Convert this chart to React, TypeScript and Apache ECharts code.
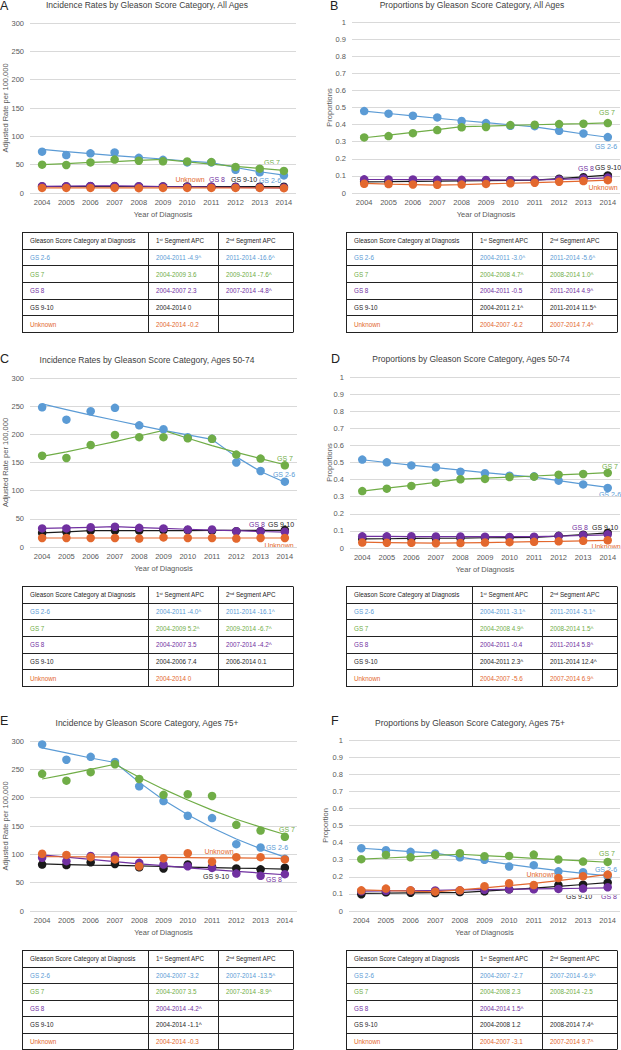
import React, { useEffect, useRef } from "react";
import * as echarts from "echarts";

const FONT = "'Liberation Sans', Arial, sans-serif";

const years = ["2004", "2005", "2006", "2007", "2008", "2009", "2010", "2011", "2012", "2013", "2014"];
const groupNames = ["GS 2-6", "GS 7", "GS 8", "GS 9-10", "Unknown"];
const groupColors = ["#5B9BD5", "#70AD47", "#7030A0", "#1A1A1A", "#E3682E"];
const rateTicks = { max: 300, interval: 50 };
const propTicks = { max: 1, interval: 0.1 };

// Panel A: incidence, all ages (observed and fitted)
const aObsGS26 = [73, 67, 70, 71.5, 62, 58.5, 54, 54, 41, 36.5, 31];
const aFitGS26 = [77, 73, 69.5, 66, 63, 60, 56.5, 53.5, 45, 37.5, 31.5];
const aObsGS7 = [50, 49.5, 54, 59, 57, 56, 55.5, 54.5, 46, 43, 39];
const aFitGS7 = [50, 52, 54, 55.5, 57.5, 59.5, 55, 51, 47, 43.5, 40];
const aObsGS8 = [12, 12, 12.5, 12.5, 12, 11.5, 11, 11, 10.5, 10, 9.5];
const aFitGS8 = [11.8, 12.1, 12.4, 12.7, 12.1, 11.5, 11, 10.4, 9.9, 9.5, 9];
const aObsGS910 = [11.5, 11.5, 12, 12, 11.5, 11.5, 11.5, 11, 11, 11, 11];
const aFitGS910 = [11.5, 11.5, 11.5, 11.5, 11.5, 11.5, 11.5, 11.5, 11.5, 11.5, 11.5];
const aObsUnk = [9, 9, 9, 9, 8.5, 9, 9, 9, 9, 9, 8.5];
const aFitUnk = [9.2, 9.2, 9.2, 9.1, 9.1, 9.1, 9.1, 9.1, 9.0, 9.0, 9.0];

// Panel B: proportions, all ages
const bObsGS26 = [0.479, 0.464, 0.452, 0.442, 0.421, 0.409, 0.393, 0.391, 0.364, 0.348, 0.327];
const bFitGS26 = [0.479, 0.465, 0.451, 0.437, 0.424, 0.412, 0.399, 0.387, 0.366, 0.345, 0.326];
const bObsGS7 = [0.325, 0.333, 0.35, 0.368, 0.384, 0.386, 0.397, 0.399, 0.403, 0.405, 0.409];
const bFitGS7 = [0.323, 0.338, 0.354, 0.371, 0.388, 0.391, 0.395, 0.399, 0.403, 0.406, 0.41];
const bObsGS8 = [0.08, 0.079, 0.079, 0.077, 0.077, 0.076, 0.075, 0.077, 0.079, 0.085, 0.09];
const bFitGS8 = [0.079, 0.079, 0.078, 0.078, 0.077, 0.077, 0.076, 0.076, 0.08, 0.084, 0.088];
const bObsGS910 = [0.066, 0.066, 0.067, 0.068, 0.07, 0.071, 0.073, 0.074, 0.084, 0.092, 0.103];
const bFitGS910 = [0.065, 0.066, 0.068, 0.069, 0.071, 0.072, 0.074, 0.075, 0.084, 0.094, 0.104];
const bObsUnk = [0.054, 0.052, 0.05, 0.048, 0.049, 0.053, 0.057, 0.06, 0.066, 0.07, 0.075];
const bFitUnk = [0.056, 0.052, 0.049, 0.046, 0.049, 0.053, 0.057, 0.061, 0.065, 0.07, 0.075];

// Panel C: incidence, ages 50-74
const cObsGS26 = [248, 226, 241, 247, 216, 209, 195, 192, 150, 135, 116];
const cFitGS26 = [254, 244, 234, 225, 216, 207, 199, 191, 160, 134, 115];
const cObsGS7 = [162, 158, 181, 199, 195, 195, 193, 192, 164, 157, 145];
const cFitGS7 = [161, 169, 178, 187, 197, 207, 193, 180, 168, 157, 146];
const cObsGS8 = [33, 33, 35, 36, 34, 33, 31, 31, 28, 28, 27];
const cFitGS8 = [33, 34, 35, 36, 34.5, 33, 31.5, 30, 29, 27.5, 26.5];
const cObsGS910 = [25, 27, 29, 29, 29, 30, 30, 29, 28, 28, 30];
const cFitGS910 = [25, 27, 29, 29, 29, 29, 29, 29.5, 29.5, 29.5, 29.5];
const cObsUnk = [16, 16, 16, 16, 15, 17, 16, 16, 15, 16, 16];
const cFitUnk = [16, 16, 16, 16, 16, 16, 16, 16, 16, 16, 16];

// Panel D: proportions, ages 50-74
const dObsGS26 = [0.517, 0.501, 0.483, 0.472, 0.446, 0.437, 0.423, 0.419, 0.394, 0.372, 0.351];
const dFitGS26 = [0.516, 0.5, 0.485, 0.47, 0.455, 0.441, 0.428, 0.415, 0.394, 0.374, 0.355];
const dObsGS7 = [0.333, 0.347, 0.363, 0.382, 0.402, 0.404, 0.415, 0.417, 0.429, 0.433, 0.439];
const dFitGS7 = [0.333, 0.35, 0.366, 0.384, 0.403, 0.409, 0.415, 0.421, 0.428, 0.434, 0.441];
const dObsGS8 = [0.068, 0.068, 0.069, 0.067, 0.067, 0.066, 0.065, 0.066, 0.07, 0.075, 0.08];
const dFitGS8 = [0.068, 0.068, 0.067, 0.067, 0.067, 0.066, 0.066, 0.066, 0.069, 0.073, 0.077];
const dObsGS910 = [0.053, 0.054, 0.056, 0.057, 0.058, 0.06, 0.061, 0.062, 0.071, 0.078, 0.088];
const dFitGS910 = [0.053, 0.054, 0.056, 0.057, 0.058, 0.06, 0.061, 0.062, 0.07, 0.079, 0.088];
const dObsUnk = [0.032, 0.031, 0.03, 0.028, 0.029, 0.032, 0.034, 0.036, 0.039, 0.042, 0.045];
const dFitUnk = [0.034, 0.032, 0.03, 0.028, 0.03, 0.032, 0.034, 0.037, 0.039, 0.042, 0.045];

// Panel E: incidence, ages 75+
const eObsGS26 = [294, 267, 272, 263, 220, 194, 168, 164, 118, 112, 92];
const eFitGS26 = [288, 279, 270, 262, 227, 196, 170, 147, 127, 110, 95];
const eObsGS7 = [242, 230, 245, 259, 233, 205, 206, 203, 152, 142, 131];
const eFitGS7 = [233, 241, 250, 259, 236, 215, 196, 178, 162, 148, 135];
const eObsGS8 = [94, 88, 97, 97, 85, 82, 79, 76, 66, 62, 65];
const eFitGS8 = [99, 95, 91, 87, 83, 80, 76, 73, 70, 67, 64];
const eObsGS910 = [82, 81, 86, 83, 77, 75, 82, 78, 75, 73.5, 76.5];
const eFitGS910 = [83, 82, 81, 80.5, 79.5, 78.5, 77.5, 76.5, 75.5, 75, 74];
const eObsUnk = [101, 99, 95, 91, 79, 93, 102, 87, 95, 95, 91];
const eFitUnk = [96, 95.7, 95.4, 95.1, 94.8, 94.5, 94.2, 93.9, 93.6, 93.3, 93];

// Panel F: proportions, ages 75+
const fObsGS26 = [0.367, 0.355, 0.346, 0.336, 0.314, 0.299, 0.26, 0.268, 0.232, 0.227, 0.203];
const fFitGS26 = [0.367, 0.357, 0.347, 0.338, 0.315, 0.293, 0.273, 0.254, 0.236, 0.22, 0.205];
const fObsGS7 = [0.303, 0.328, 0.314, 0.328, 0.338, 0.32, 0.322, 0.33, 0.301, 0.289, 0.287];
const fFitGS7 = [0.303, 0.31, 0.317, 0.325, 0.332, 0.324, 0.316, 0.308, 0.3, 0.293, 0.285];
const fObsGS8 = [0.115, 0.118, 0.12, 0.12, 0.121, 0.124, 0.127, 0.127, 0.129, 0.131, 0.139];
const fFitGS8 = [0.116, 0.118, 0.12, 0.121, 0.123, 0.125, 0.127, 0.129, 0.131, 0.133, 0.135];
const fObsGS910 = [0.098, 0.109, 0.107, 0.105, 0.111, 0.115, 0.127, 0.133, 0.152, 0.154, 0.166];
const fFitGS910 = [0.103, 0.104, 0.106, 0.107, 0.108, 0.116, 0.125, 0.134, 0.144, 0.155, 0.166];
const fObsUnk = [0.121, 0.131, 0.121, 0.113, 0.121, 0.145, 0.162, 0.152, 0.193, 0.203, 0.213];
const fFitUnk = [0.123, 0.119, 0.116, 0.112, 0.123, 0.135, 0.148, 0.162, 0.178, 0.195, 0.214];

// Tables
const tableHeader = ["Gleason Score Category at Diagnosis", "1{sup|st} Segment APC", "2{sup|nd} Segment APC"];
const tableA = [
  ["GS 2-6", "2004-2011 -4.9^", "2011-2014 -16.6^"],
  ["GS 7", "2004-2009 3.6", "2009-2014 -7.6^"],
  ["GS 8", "2004-2007 2.3", "2007-2014 -4.8^"],
  ["GS 9-10", "2004-2014 0", ""],
  ["Unknown", "2004-2014 -0.2", ""],
];
const tableB = [
  ["GS 2-6", "2004-2011 -3.0^", "2011-2014 -5.6^"],
  ["GS 7", "2004-2008 4.7^", "2008-2014 1.0^"],
  ["GS 8", "2004-2011 -0.5", "2011-2014 4.9^"],
  ["GS 9-10", "2004-2011 2.1^", "2011-2014 11.5^"],
  ["Unknown", "2004-2007 -6.2", "2007-2014 7.4^"],
];
const tableC = [
  ["GS 2-6", "2004-2011 -4.0^", "2011-2014 -16.1^"],
  ["GS 7", "2004-2009 5.2^", "2009-2014 -6.7^"],
  ["GS 8", "2004-2007 3.5", "2007-2014 -4.2^"],
  ["GS 9-10", "2004-2006 7.4", "2006-2014 0.1"],
  ["Unknown", "2004-2014 0", ""],
];
const tableD = [
  ["GS 2-6", "2004-2011 -3.1^", "2011-2014 -5.1^"],
  ["GS 7", "2004-2008 4.9^", "2008-2014 1.5^"],
  ["GS 8", "2004-2011 -0.4", "2011-2014 5.8^"],
  ["GS 9-10", "2004-2011 2.3^", "2011-2014 12.4^"],
  ["Unknown", "2004-2007 -5.6", "2007-2014 6.9^"],
];
const tableE = [
  ["GS 2-6", "2004-2007 -3.2", "2007-2014 -13.5^"],
  ["GS 7", "2004-2007 3.5", "2007-2014 -8.9^"],
  ["GS 8", "2004-2014 -4.2^", ""],
  ["GS 9-10", "2004-2014 -1.1^", ""],
  ["Unknown", "2004-2014 -0.3", ""],
];
const tableF = [
  ["GS 2-6", "2004-2007 -2.7", "2007-2014 -6.9^"],
  ["GS 7", "2004-2008 2.3", "2008-2014 -2.5"],
  ["GS 8", "2004-2014 1.5^", ""],
  ["GS 9-10", "2004-2008 1.2", "2008-2014 7.4^"],
  ["Unknown", "2004-2007 -3.1", "2007-2014 9.7^"],
];

const panels = [
  {
    letter: "A", title: "Incidence Rates by Gleason Score Category, All Ages", yName: "Adjusted Rate per 100,000", ticks: rateTicks,
    obs: [aObsGS26, aObsGS7, aObsGS8, aObsGS910, aObsUnk], fit: [aFitGS26, aFitGS7, aFitGS8, aFitGS910, aFitUnk], table: tableA,
  },
  {
    letter: "B", title: "Proportions by Gleason Score Category, All Ages", yName: "Proportions", ticks: propTicks,
    obs: [bObsGS26, bObsGS7, bObsGS8, bObsGS910, bObsUnk], fit: [bFitGS26, bFitGS7, bFitGS8, bFitGS910, bFitUnk], table: tableB,
  },
  {
    letter: "C", title: "Incidence Rates by Gleason Score Category, Ages 50-74", yName: "Adjusted Rate per 100,000", ticks: rateTicks,
    obs: [cObsGS26, cObsGS7, cObsGS8, cObsGS910, cObsUnk], fit: [cFitGS26, cFitGS7, cFitGS8, cFitGS910, cFitUnk], table: tableC,
  },
  {
    letter: "D", title: "Proportions by Gleason Score Category, Ages 50-74", yName: "Proportions", ticks: propTicks,
    obs: [dObsGS26, dObsGS7, dObsGS8, dObsGS910, dObsUnk], fit: [dFitGS26, dFitGS7, dFitGS8, dFitGS910, dFitUnk], table: tableD,
  },
  {
    letter: "E", title: "Incidence by Gleason Score Category, Ages 75+", yName: "Adjusted Rate per 100,000", ticks: rateTicks,
    obs: [eObsGS26, eObsGS7, eObsGS8, eObsGS910, eObsUnk], fit: [eFitGS26, eFitGS7, eFitGS8, eFitGS910, eFitUnk], table: tableE,
  },
  {
    letter: "F", title: "Proportions by Gleason Score Category, Ages 75+", yName: "Proportion", ticks: propTicks,
    obs: [fObsGS26, fObsGS7, fObsGS8, fObsGS910, fObsUnk], fit: [fFitGS26, fFitGS7, fFitGS8, fFitGS910, fFitUnk], table: tableF,
  },
];

// Layout (pixel positions) for each panel
const LEFT_COLS = [22, 148, 218, 293];
const RIGHT_COLS = [346, 472, 542, 617];
const layouts = [
  { grid: { left: 30, top: 23, width: 266, height: 170 }, letter: [0, 6], title: [147, 5], yNameX: 5,
    table: { cols: LEFT_COLS, top: 232, rh: 16.67 },
    labels: [[270, 180], [272, 162], [217, 179], [244, 179], [190, 179]] },
  { grid: { left: 352, top: 22, width: 268, height: 171 }, letter: [330, 6], title: [472, 5], yNameX: 329,
    table: { cols: RIGHT_COLS, top: 232, rh: 16.67 },
    labels: [[606, 146], [607, 112], [586, 168], [608, 167], [603, 187]] },
  { grid: { left: 30, top: 378, width: 267, height: 169 }, letter: [0, 359], title: [147, 360], yNameX: 5,
    table: { cols: LEFT_COLS, top: 586, rh: 16.67 },
    labels: [[284, 474], [285, 458], [257, 524], [281, 524], [279, 545]] },
  { grid: { left: 350, top: 377, width: 270, height: 171 }, letter: [331, 359], title: [471, 359], yNameX: 329,
    table: { cols: RIGHT_COLS, top: 586, rh: 16.67 },
    labels: [[610, 494], [610, 466], [580, 527], [605, 527], [606, 546]] },
  { grid: { left: 30, top: 741, width: 267, height: 170 }, letter: [0, 721], title: [147, 723], yNameX: 5,
    table: { cols: LEFT_COLS, top: 950, rh: 16.5 },
    labels: [[277, 847], [287, 829], [274, 879], [216, 876], [219, 851]] },
  { grid: { left: 349, top: 740, width: 271, height: 171 }, letter: [331, 721], title: [470, 723], yNameX: 325,
    table: { cols: RIGHT_COLS, top: 950, rh: 16.5 },
    labels: [[606, 869], [607, 853], [609, 896], [579, 896], [541, 874]] },
];

// draw order: blue, green, black, purple, orange
const drawOrder = [0, 1, 3, 2, 4];

function buildOption() {
  const series: any[] = [];
  const graphic: any[] = [];

  panels.forEach((p, i) => {
    const L = layouts[i];
    drawOrder.forEach((g) => {
      series.push({
        type: "line",
        name: groupNames[g] + " fit",
        xAxisIndex: i,
        yAxisIndex: i,
        data: p.fit[g],
        symbol: "none",
        lineStyle: { color: groupColors[g], width: 1.2 },
        z: 2,
        silent: true,
      });
    });
    drawOrder.forEach((g) => {
      series.push({
        type: "scatter",
        name: groupNames[g],
        xAxisIndex: i,
        yAxisIndex: i,
        data: p.obs[g],
        symbolSize: 8.5,
        itemStyle: { color: groupColors[g], opacity: 1 },
        z: 3,
        silent: true,
      });
    });

    const g0 = L.grid;
    // panel letter
    graphic.push({
      type: "text", x: L.letter[0], y: L.letter[1],
      style: { text: p.letter, fontSize: 12.5, fontFamily: FONT, fill: "#222", align: "left", verticalAlign: "middle" },
    });
    // title
    graphic.push({
      type: "text", x: L.title[0], y: L.title[1],
      style: { text: p.title, fontSize: 8.5, fontFamily: FONT, fill: "#404040", align: "center", verticalAlign: "middle" },
    });
    // y axis name
    graphic.push({
      type: "text", x: L.yNameX, y: g0.top + g0.height / 2, rotation: Math.PI / 2,
      style: { text: p.yName, fontSize: 7.5, fontFamily: FONT, fill: "#595959", align: "center", verticalAlign: "middle" },
    });
    // x axis name
    graphic.push({
      type: "text", x: g0.left + g0.width / 2, y: g0.top + g0.height + 21,
      style: { text: "Year of Diagnosis", fontSize: 7.5, fontFamily: FONT, fill: "#595959", align: "center", verticalAlign: "middle" },
    });
    // series labels
    groupNames.forEach((name, g) => {
      graphic.push({
        type: "text", x: L.labels[g][0], y: L.labels[g][1],
        style: { text: name, fontSize: 7, fontFamily: FONT, fill: groupColors[g], align: "center", verticalAlign: "middle" },
      });
    });

    // table
    const T = L.table;
    const cols = T.cols;
    const nRows = p.table.length + 1;
    const bottom = T.top + nRows * T.rh;
    for (let r = 0; r <= nRows; r++) {
      const y = Math.round(T.top + r * T.rh) + 0.5;
      graphic.push({
        type: "line", shape: { x1: cols[0], y1: y, x2: cols[3], y2: y },
        style: { stroke: "#222", lineWidth: 1 }, silent: true,
      });
    }
    cols.forEach((cx) => {
      graphic.push({
        type: "line", shape: { x1: cx + 0.5, y1: Math.round(T.top) + 0.5, x2: cx + 0.5, y2: Math.round(bottom) + 0.5 },
        style: { stroke: "#222", lineWidth: 1 }, silent: true,
      });
    });
    tableHeader.forEach((h, c) => {
      graphic.push({
        type: "text", x: cols[c] + 8, y: T.top + T.rh / 2 + 0.5,
        style: {
          text: h, fontSize: 6.3, fontFamily: FONT, fill: "#262626", align: "left", verticalAlign: "middle",
          rich: { sup: { fontSize: 4.2, fontFamily: FONT, fill: "#262626", verticalAlign: "top" } },
        },
      });
    });
    p.table.forEach((row, r) => {
      const color = groupColors[r] === "#1A1A1A" ? "#262626" : groupColors[r];
      row.forEach((cell, c) => {
        if (!cell) return;
        graphic.push({
          type: "text", x: cols[c] + 8, y: T.top + (r + 1.5) * T.rh + 0.5,
          style: { text: cell, fontSize: 6.3, fontFamily: FONT, fill: color, align: "left", verticalAlign: "middle" },
        });
      });
    });
  });

  return {
    animation: false,
    backgroundColor: "#ffffff",
    textStyle: { fontFamily: FONT },
    grid: layouts.map((L) => ({ ...L.grid, containLabel: false })),
    xAxis: panels.map((p, i) => ({
      type: "category",
      gridIndex: i,
      data: years,
      boundaryGap: true,
      axisLine: { show: false },
      axisTick: { show: false },
      axisLabel: { fontSize: 7.5, color: "#595959", margin: 5, interval: 0, fontFamily: FONT },
      splitLine: { show: false },
    })),
    yAxis: panels.map((p, i) => ({
      type: "value",
      gridIndex: i,
      min: 0,
      max: p.ticks.max,
      interval: p.ticks.interval,
      axisLine: { show: false },
      axisTick: { show: false },
      axisLabel: { fontSize: 7.5, color: "#595959", margin: 6, fontFamily: FONT },
      splitLine: { lineStyle: { color: "#D9D9D9", width: 1 } },
    })),
    series,
    graphic,
  };
}

export default function App() {
  const ref = useRef<HTMLDivElement | null>(null);
  useEffect(() => {
    if (!ref.current) return;
    const chart = echarts.init(ref.current, null, { renderer: "svg" });
    chart.setOption(buildOption() as any);
    return () => chart.dispose();
  }, []);
  return (
    <div
      ref={ref}
      style={{ position: "absolute", left: 0, top: 0, width: 621, height: 1050, background: "#fff" }}
    />
  );
}
